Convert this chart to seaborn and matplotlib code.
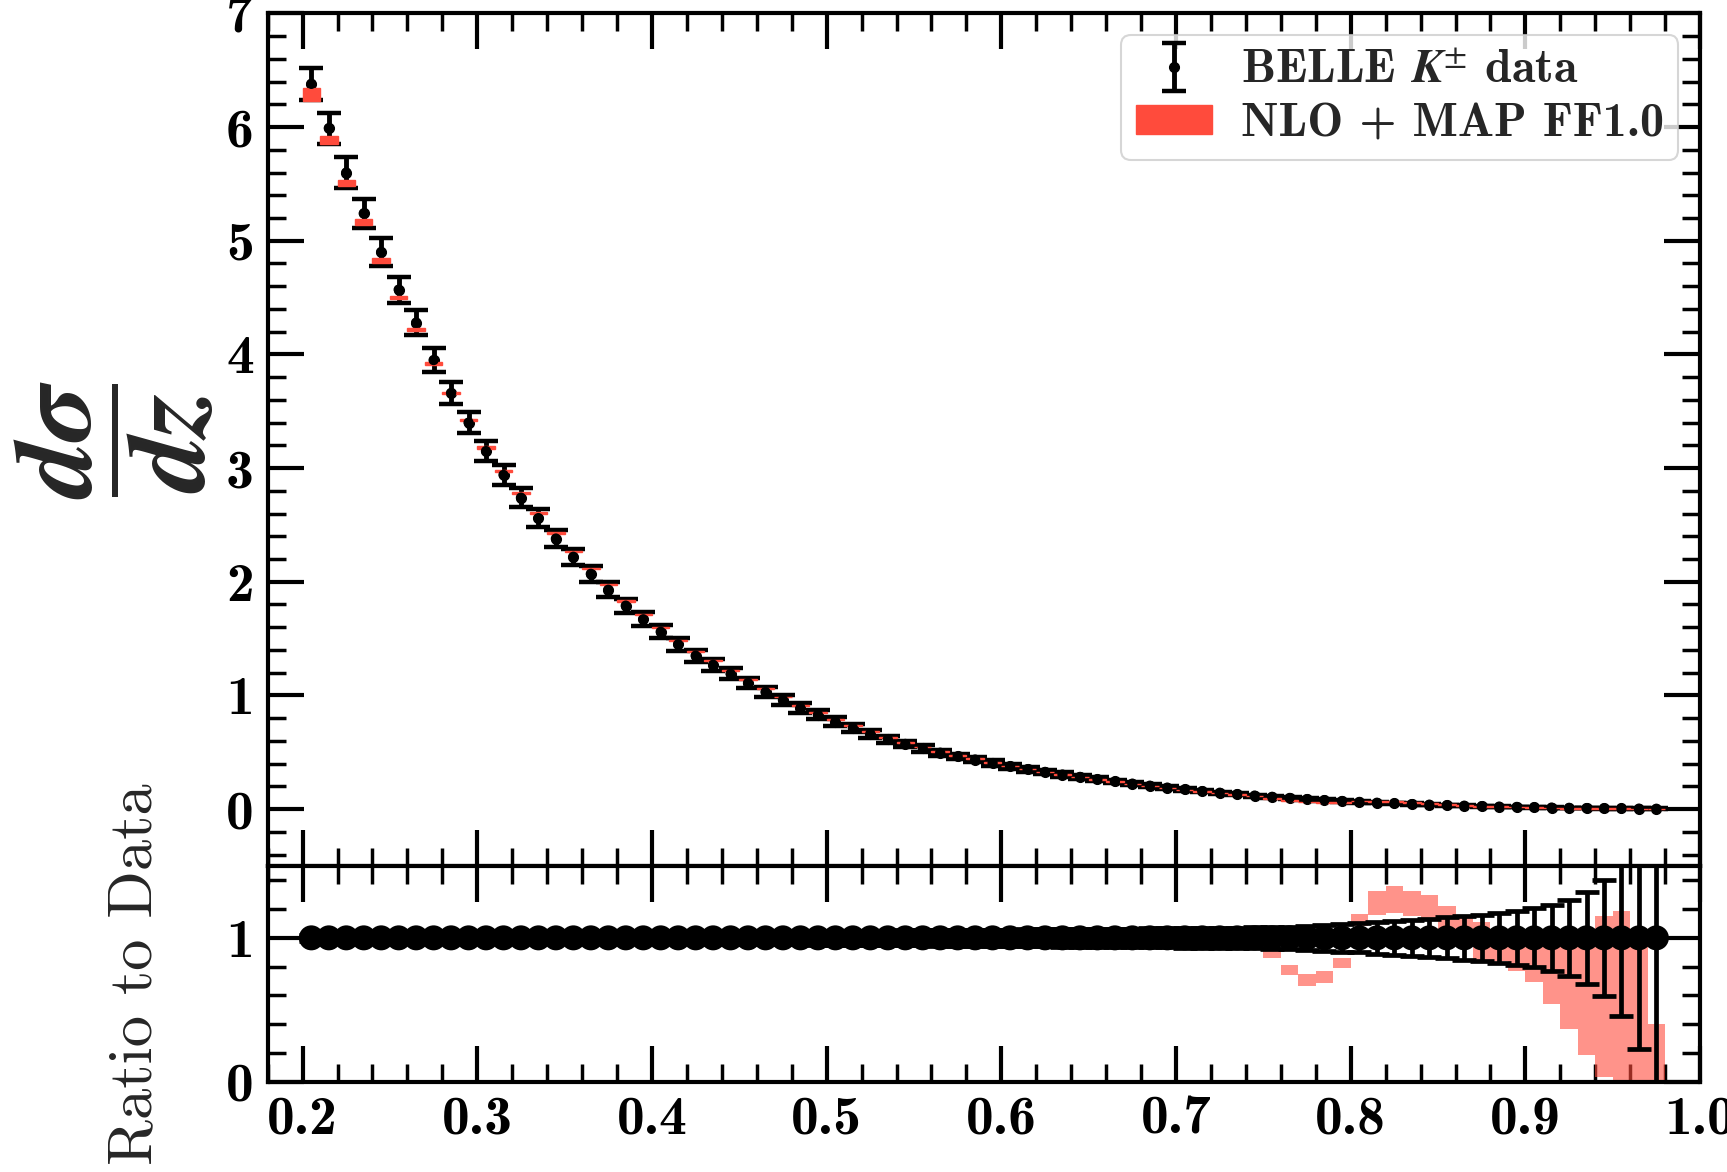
import numpy as np
import pandas as pd
import matplotlib
matplotlib.use("Agg")
import matplotlib.pyplot as plt
from matplotlib.ticker import MultipleLocator
import seaborn as sns

# z bin centres
z = [0.205, 0.215, 0.225, 0.235, 0.245, 0.255, 0.265, 0.275, 0.285, 0.295,
     0.305, 0.315, 0.325, 0.335, 0.345, 0.355, 0.365, 0.375, 0.385, 0.395,
     0.405, 0.415, 0.425, 0.435, 0.445, 0.455, 0.465, 0.475, 0.485, 0.495,
     0.505, 0.515, 0.525, 0.535, 0.545, 0.555, 0.565, 0.575, 0.585, 0.595,
     0.605, 0.615, 0.625, 0.635, 0.645, 0.655, 0.665, 0.675, 0.685, 0.695,
     0.705, 0.715, 0.725, 0.735, 0.745, 0.755, 0.765, 0.775, 0.785, 0.795,
     0.805, 0.815, 0.825, 0.835, 0.845, 0.855, 0.865, 0.875, 0.885, 0.895,
     0.905, 0.915, 0.925, 0.935, 0.945, 0.955, 0.965, 0.975]

# BELLE K+- cross section dsigma/dz
xsec = [6.38, 5.99, 5.60, 5.24, 4.90, 4.57, 4.28, 3.95, 3.66, 3.40,
        3.15, 2.94, 2.74, 2.56, 2.38, 2.22, 2.07, 1.93, 1.79, 1.67,
        1.56, 1.45, 1.35, 1.27, 1.19, 1.11, 1.03, 0.96, 0.89, 0.83,
        0.77, 0.715, 0.663, 0.615, 0.573, 0.535, 0.496, 0.463, 0.436, 0.405,
        0.377, 0.351, 0.327, 0.304, 0.283, 0.262, 0.243, 0.224, 0.206, 0.189,
        0.173, 0.158, 0.144, 0.131, 0.119, 0.108, 0.098, 0.088, 0.079, 0.071,
        0.063, 0.056, 0.050, 0.044, 0.039, 0.034, 0.030, 0.026, 0.022, 0.019,
        0.016, 0.0135, 0.011, 0.009, 0.0072, 0.0056, 0.0042, 0.003]

# relative experimental uncertainty
rel_err = [0.022, 0.023, 0.024, 0.024, 0.025, 0.025, 0.026, 0.026, 0.027, 0.027,
           0.028, 0.029, 0.030, 0.030, 0.031, 0.032, 0.033, 0.034, 0.035, 0.036,
           0.037, 0.038, 0.039, 0.040, 0.041, 0.042, 0.043, 0.044, 0.046, 0.047,
           0.048, 0.049, 0.050, 0.051, 0.052, 0.053, 0.054, 0.055, 0.056, 0.057,
           0.058, 0.059, 0.060, 0.061, 0.062, 0.063, 0.064, 0.065, 0.066, 0.067,
           0.068, 0.069, 0.070, 0.071, 0.073, 0.075, 0.078, 0.082, 0.088, 0.095,
           0.100, 0.110, 0.118, 0.126, 0.134, 0.143, 0.152, 0.162, 0.173, 0.187,
           0.205, 0.228, 0.262, 0.322, 0.405, 0.545, 0.775, 1.15]

# theory band (NLO + MAP FF1.0) relative to data: lower / upper edge
theory_lo = [0.976, 0.977, 0.979, 0.980, 0.981, 0.982, 0.983, 0.989, 0.997, 1.003,
             1.007, 1.010, 1.013, 1.015, 1.017, 1.018, 1.019, 1.020, 1.020, 1.021,
             1.021, 1.022, 1.023, 1.023, 1.023, 1.024, 1.024, 1.023, 1.023, 1.022,
             1.022, 1.021, 1.020, 1.019, 1.018, 1.017, 1.015, 1.013, 1.010, 1.007,
             1.004, 1.001, 0.998, 0.995, 0.992, 0.988, 0.986, 0.983, 0.981, 0.978,
             0.977, 0.975, 0.971, 0.962, 0.935, 0.862, 0.742, 0.667, 0.683, 0.793,
             1.080, 1.160, 1.172, 1.150, 1.126, 1.060, 0.950, 0.840, 0.840, 0.770,
             0.690, 0.540, 0.368, 0.184, 0.035, -0.050, -0.050, -0.100]
theory_hi = [0.994, 0.989, 0.989, 0.990, 0.989, 0.988, 0.989, 0.995, 1.003, 1.009,
             1.013, 1.016, 1.019, 1.021, 1.023, 1.024, 1.025, 1.026, 1.026, 1.027,
             1.027, 1.028, 1.029, 1.031, 1.031, 1.032, 1.032, 1.031, 1.031, 1.032,
             1.032, 1.031, 1.030, 1.029, 1.028, 1.027, 1.025, 1.023, 1.022, 1.019,
             1.016, 1.013, 1.010, 1.007, 1.004, 1.002, 1.000, 0.997, 0.995, 0.994,
             0.993, 0.991, 0.989, 0.982, 0.975, 0.920, 0.811, 0.752, 0.770, 0.862,
             1.168, 1.326, 1.363, 1.326, 1.300, 1.225, 1.140, 1.110, 1.050, 1.000,
             0.980, 0.970, 0.970, 1.000, 1.150, 1.184, 1.000, 0.400]

RED = "#ff4b3c"

df = pd.DataFrame({"z": z, "xsec": xsec, "rel": rel_err,
                   "lo": theory_lo, "hi": theory_hi})
df["abs_err"] = df["xsec"] * df["rel"]
df["th_lo"] = df["xsec"] * df["lo"]
df["th_hi"] = df["xsec"] * df["hi"]
df["one"] = 1.0

sns.set_theme(style="ticks")
plt.rcParams.update({
    "font.family": ["cmb10", "DejaVu Serif"],
    "mathtext.fontset": "cm",
    "axes.unicode_minus": False,
    "axes.linewidth": 3.0,
    "axes.edgecolor": "black",
    "xtick.color": "black",
    "ytick.color": "black",
})

fig = plt.figure(figsize=(17.27, 11.72), dpi=100)
gs = fig.add_gridspec(2, 1, height_ratios=[852.7, 215.7], hspace=0,
                      left=0.155, right=0.9844, top=0.9886, bottom=0.0771)
ax = fig.add_subplot(gs[0])
axr = fig.add_subplot(gs[1], sharex=ax)

# --- upper panel: cross section ---
ax.errorbar(df["z"], df["xsec"], yerr=df["abs_err"], fmt="o", ms=7,
            color="black", ecolor="black", elinewidth=3.5, capsize=8.3,
            capthick=3.2, zorder=2, label=r"BELLE $\mathbfit{K}^{\pm}$ data")
ax.bar(df["z"], df["th_hi"] - df["th_lo"], bottom=df["th_lo"], width=0.01,
       color=RED, edgecolor=RED, linewidth=1.0, zorder=3,
       label="NLO + MAP FF1.0")
sns.scatterplot(data=df, x="z", y="xsec", ax=ax, color="black", s=55,
                edgecolor="none", zorder=4, legend=False)

ax.set_xlim(0.18, 1.0)
ax.set_ylim(-0.5, 7)
ax.yaxis.set_major_locator(MultipleLocator(1))
ax.yaxis.set_minor_locator(MultipleLocator(0.2))
ax.set_xlabel("")
ax.set_ylabel(r"$\dfrac{\mathbfit{d\sigma}}{\mathbfit{dz}}$", fontsize=80,
              math_fontfamily="stix", va="center")
ax.yaxis.set_label_coords(-0.107, 0.5)
plt.setp(ax.get_xticklabels(), visible=False)

leg = ax.legend(loc="upper right", prop={"family": "cmb10", "size": 34.5},
                frameon=True, fancybox=True, edgecolor="#cccccc",
                framealpha=0.8, borderaxespad=0.45, borderpad=0.3,
                labelspacing=0.25, handlelength=1.6, handleheight=0.55,
                handletextpad=0.6)
leg.get_frame().set_linewidth(1.5)
for t in leg.get_texts():
    t.set_math_fontfamily("stix")

# --- lower panel: ratio to data ---
axr.bar(df["z"], df["hi"] - df["lo"], bottom=df["lo"], width=0.01,
        color=RED, alpha=0.6, linewidth=0, zorder=1)
axr.errorbar(df["z"], df["one"], yerr=df["rel"], fmt="none", ecolor="black",
             elinewidth=3.4, capsize=8.4, capthick=3.4, zorder=3)
sns.scatterplot(data=df, x="z", y="one", ax=axr, color="black", s=18 ** 2,
                edgecolor="none", zorder=4, legend=False)
axr.set_ylim(0, 1.5)
axr.yaxis.set_major_locator(MultipleLocator(1))
axr.yaxis.set_minor_locator(MultipleLocator(0.2))
axr.set_xlabel("")
axr.set_ylabel("Ratio to Data", fontfamily="cmr10", fontsize=45, va="center")
axr.yaxis.set_label_coords(-0.092, 0.5)

for a in (ax, axr):
    a.xaxis.set_major_locator(MultipleLocator(0.1))
    a.xaxis.set_minor_locator(MultipleLocator(0.02))
    a.tick_params(which="both", direction="in", top=True, right=True,
                  labelsize=40, pad=10)
    a.tick_params(which="major", length=26, width=3)
    a.tick_params(which="minor", length=13, width=2.5)
    for lab in a.get_xticklabels() + a.get_yticklabels():
        lab.set_fontfamily("cmb10")
    for s in a.spines.values():
        s.set_linewidth(3.0)
        s.set_zorder(10)

axr.xaxis.set_major_formatter(plt.FuncFormatter(lambda v, p: f"{v:.1f}"))
ax.yaxis.set_major_formatter(plt.FuncFormatter(lambda v, p: f"{v:.0f}"))
axr.yaxis.set_major_formatter(plt.FuncFormatter(lambda v, p: f"{v:.0f}"))

fig.savefig("out.png", dpi=100)
